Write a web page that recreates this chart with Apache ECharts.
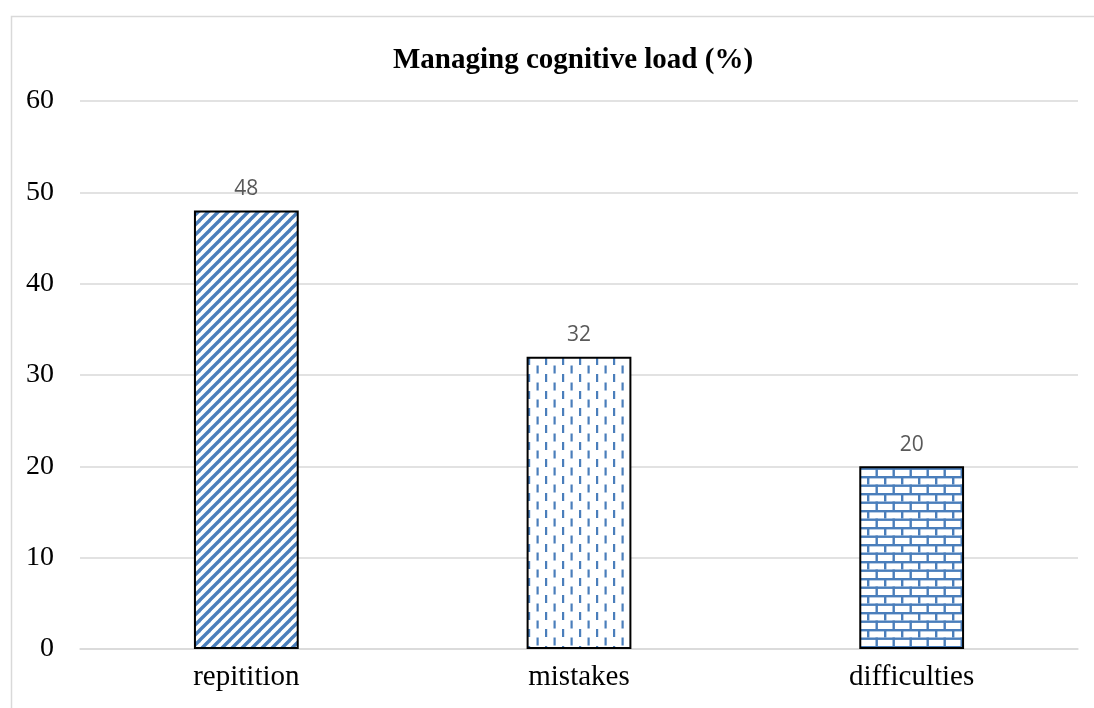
<!DOCTYPE html>
<html>
<head>
<meta charset="utf-8">
<script src="https://cdn.jsdelivr.net/npm/echarts@6/dist/echarts.min.js"></script>
<style>
  html, body { margin: 0; padding: 0; background: #ffffff; }
  #chart { width: 1094px; height: 708px; }
</style>
</head>
<body>
<div id="chart"></div>
<script>
// Data
const categories = ['repitition', 'mistakes', 'difficulties'];
const values = [48, 32, 20];
const yTicks = [0, 10, 20, 30, 40, 50, 60];

const BLUE = '#4a7ebb';

// Hatch fills drawn on small canvases and tiled by ECharts
function makeTile(w, h, draw) {
  const c = document.createElement('canvas');
  c.width = w; c.height = h;
  const ctx = c.getContext('2d');
  ctx.fillStyle = '#ffffff';
  ctx.fillRect(0, 0, w, h);
  draw(ctx, w, h);
  return c;
}

// Wide upward diagonal stripes
const diagTile = makeTile(10, 10, (ctx, w, h) => {
  ctx.strokeStyle = BLUE;
  ctx.lineWidth = 3.4;
  for (let k = -1; k <= 1; k++) {
    ctx.beginPath();
    ctx.moveTo(k * w - 1, h + 1);
    ctx.lineTo(k * w + w + 1, -1);
    ctx.stroke();
  }
});

// Dashed vertical lines, alternating columns
const dashTile = makeTile(17, 17, (ctx) => {
  ctx.fillStyle = BLUE;
  ctx.fillRect(1, 0, 2.2, 8);
  ctx.fillRect(9.5, 8.5, 2.2, 8);
});

// Horizontal bricks
const brickTile = makeTile(17, 17, (ctx, w) => {
  ctx.fillStyle = BLUE;
  ctx.fillRect(0, 0, w, 2.4);
  ctx.fillRect(0, 8.5, w, 2.4);
  ctx.fillRect(0, 0, 2.4, 8.5);
  ctx.fillRect(8.5, 8.5, 2.4, 8.5);
});

const tiles = [diagTile, dashTile, brickTile];

const chart = echarts.init(document.getElementById('chart'), null, { renderer: 'canvas' });

chart.setOption({
  backgroundColor: '#ffffff',
  animation: false,
  title: {
    text: 'Managing cognitive load (%)',
    left: 568,
    top: 41,
    textAlign: 'center',
    textStyle: {
      fontFamily: 'Liberation Serif',
      fontWeight: 'bold',
      fontSize: 29,
      color: '#000000'
    }
  },
  graphic: [{
    type: 'rect',
    left: 9,
    top: 14,
    shape: { width: 1110, height: 720 },
    style: { fill: 'none', stroke: '#d9d9d9', lineWidth: 1.5 },
    silent: true,
    z: -1
  }],
  grid: { left: 80, right: 16, top: 101, bottom: 59, containLabel: false },
  xAxis: {
    type: 'category',
    data: categories,
    axisLine: { show: true, lineStyle: { color: '#d9d9d9', width: 1.5 } },
    axisTick: { show: false },
    axisLabel: {
      fontFamily: 'Liberation Serif',
      fontSize: 29,
      color: '#000000',
      margin: 14
    }
  },
  yAxis: {
    type: 'value',
    min: yTicks[0],
    max: yTicks[yTicks.length - 1],
    interval: 10,
    axisLine: { show: false },
    axisTick: { show: false },
    splitLine: { lineStyle: { color: '#d9d9d9', width: 1.5 } },
    axisLabel: {
      fontFamily: 'Liberation Serif',
      fontSize: 28,
      color: '#000000',
      margin: 26,
      formatter: (v) => yTicks.includes(v) ? String(v) : ''
    }
  },
  series: [{
    type: 'bar',
    barWidth: '31.5%',
    data: values.map((v, i) => ({
      value: v,
      itemStyle: {
        color: { image: tiles[i], repeat: 'repeat' },
        borderColor: '#000000',
        borderWidth: 2
      }
    })),
    label: {
      show: true,
      position: 'top',
      distance: 11,
      fontFamily: 'Open Sans',
      fontSize: 21,
      color: '#595959'
    }
  }]
});
</script>
</body>
</html>
